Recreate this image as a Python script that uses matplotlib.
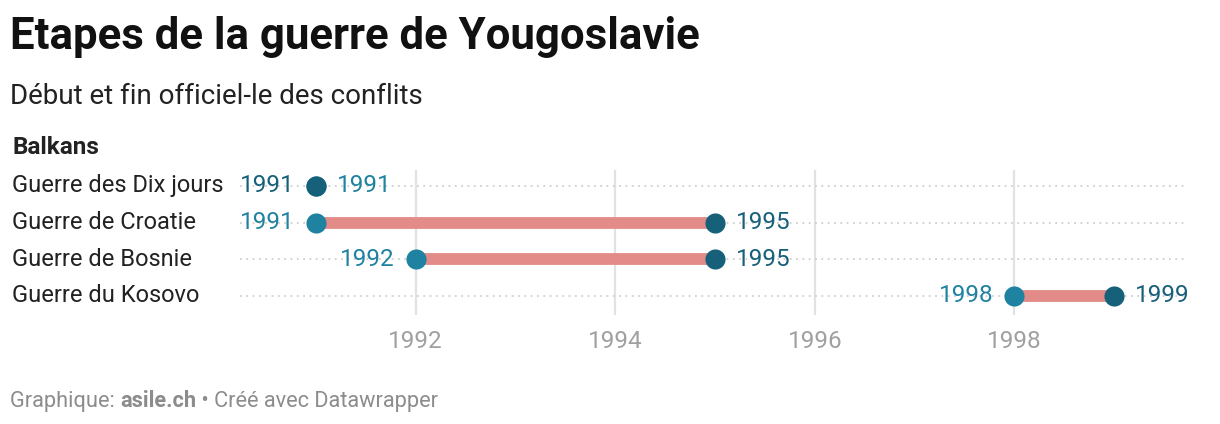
import matplotlib.pyplot as plt
from matplotlib.transforms import blended_transform_factory

plt.rcParams['font.family'] = ['Roboto', 'DejaVu Sans']

wars = ['Guerre des Dix jours', 'Guerre de Croatie', 'Guerre de Bosnie', 'Guerre du Kosovo']
start = [1991, 1991, 1992, 1998]
end = [1991, 1995, 1995, 1999]
ticks = [1992, 1994, 1996, 1998]

c_start = '#1f82a1'
c_end = '#17607a'
c_bar = '#e28b88'

W, H = 1220, 424
fig = plt.figure(figsize=(W / 100, H / 100), dpi=100)
ax = fig.add_axes([240 / W, 1 - 315 / H, (1188 - 240) / W, (315 - 170) / H])

ax.set_xlim(1990.24, 1999.74)
ax.set_ylim(3.52, -0.436)

for t in ticks:
    ax.axvline(t, color='#e2e2e2', lw=1.6, zorder=0)

label_tr = blended_transform_factory(fig.transFigure, ax.transData)

for i, name in enumerate(wars):
    ax.axhline(i, color='#cfcfcf', lw=1.3, ls=(0, (1, 2.5)), zorder=0)
    if end[i] > start[i]:
        ax.plot([start[i], end[i]], [i, i], color=c_bar, lw=8.5, solid_capstyle='butt', zorder=2)
    ax.plot(start[i], i, 'o', ms=14.5, color=c_start, mec='none', zorder=3)
    ax.plot(end[i], i, 'o', ms=14.5, color=c_end, mec='none', zorder=4)
    lc = c_start if end[i] > start[i] else c_end
    rc = c_end if end[i] > start[i] else c_start
    ax.annotate(str(start[i]), (start[i], i), xytext=(-15, 0), textcoords='offset points',
                ha='right', va='center', fontsize=17.5, color=lc)
    ax.annotate(str(end[i]), (end[i], i), xytext=(15, 0), textcoords='offset points',
                ha='left', va='center', fontsize=17.5, color=rc)
    ax.text(12 / W, i, name, transform=label_tr,
            fontsize=17, color='#222222', va='center', ha='left')

ax.set_xticks(ticks)
ax.set_xticklabels([str(t) for t in ticks])
ax.tick_params(axis='x', length=0, labelsize=17.5, labelcolor='#a0a0a0', pad=11)
ax.set_yticks([])
for s in ax.spines.values():
    s.set_visible(False)

fig.text(10 / W, 1 - 37 / H, 'Etapes de la guerre de Yougoslavie', fontsize=31.5,
         fontweight='bold', color='#111111', va='center')
fig.text(10 / W, 1 - 97 / H, 'Début et fin officiel-le des conflits', fontsize=20,
         color='#222222', va='center')
fig.text(12 / W, 1 - 148 / H, 'Balkans', fontsize=17.5, fontweight='bold',
         color='#222222', va='center')

# footer with bold part
renderer = fig.canvas.get_renderer()
x = 10
parts = [('Graphique: ', 'normal'), ('asile.ch', 'bold'), (' • Créé avec Datawrapper', 'normal')]
for txt, fw in parts:
    t = fig.text(x / W, 1 - 401 / H, txt, fontsize=15.7, fontweight=fw, color='#8c8c8c', va='center')
    bb = t.get_window_extent(renderer)
    x += bb.width

fig.savefig('out.png', dpi=100, facecolor='white')
